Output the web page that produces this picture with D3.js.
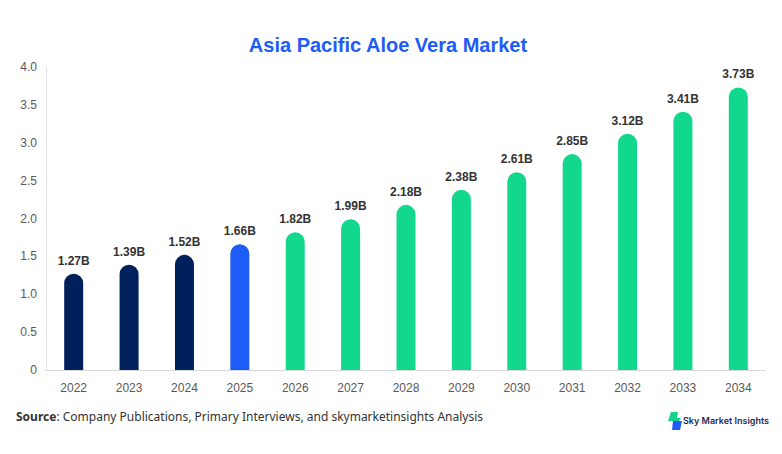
<!DOCTYPE html>
<html>
<head>
<meta charset="utf-8">
<script src="https://cdn.jsdelivr.net/npm/d3@7"></script>
<style>
  body { margin: 0; background: #fff; }
  svg { display: block; }
</style>
</head>
<body>
<svg id="chart" width="782" height="454"></svg>
<script>
// chart data
var years = ["2022","2023","2024","2025","2026","2027","2028","2029","2030","2031","2032","2033","2034"];
var values = [1.27, 1.39, 1.52, 1.66, 1.82, 1.99, 2.18, 2.38, 2.61, 2.85, 3.12, 3.41, 3.73];
var yTicks = [0, 0.5, 1.0, 1.5, 2.0, 2.5, 3.0, 3.5, 4.0];
var yTickLabels = ["0", "0.5", "1.0", "1.5", "2.0", "2.5", "3.0", "3.5", "4.0"];

var svg = d3.select("#chart");
// plot area (note: "top" is taken by window.top)
var plotLeft = 46, plotRight = 766, plotTop = 67, plotBottom = 370;
var barWidth = 19;
var sans = "'Liberation Sans', Arial, sans-serif";

function barColor(i) {
  if (i < 3) return "#00205b";
  if (i == 3) return "#1e5cf8";
  return "#12d88e";
}

var x = d3.scaleBand().domain(years).range([plotLeft, plotRight]);
var y = d3.scaleLinear().domain([0, 4]).range([plotBottom, plotTop]);

// title
svg.append("text")
   .attr("x", 388).attr("y", 52)
   .attr("text-anchor", "middle")
   .style("font-family", sans)
   .style("font-weight", "bold")
   .style("font-size", "20px")
   .style("fill", "#1e5cf8")
   .text("Asia Pacific Aloe Vera Market");

// axis lines
svg.append("line")
   .attr("x1", plotLeft + 0.5).attr("x2", plotLeft + 0.5).attr("y1", plotTop).attr("y2", plotBottom)
   .attr("stroke", "#e3e3e3");
svg.append("line")
   .attr("x1", plotLeft).attr("x2", plotRight).attr("y1", plotBottom + 0.5).attr("y2", plotBottom + 0.5)
   .attr("stroke", "#d9d9d9");

// y tick labels
svg.selectAll(".ytick")
   .data(yTicks)
   .enter()
   .append("text")
   .attr("class", "ytick")
   .attr("x", 37)
   .attr("y", function(d){ return y(d) + 4; })
   .attr("text-anchor", "end")
   .style("font-family", sans)
   .style("font-size", "12px")
   .style("fill", "#595959")
   .text(function(d, i){ return yTickLabels[i]; });

// x tick labels
svg.selectAll(".xtick")
   .data(years)
   .enter()
   .append("text")
   .attr("class", "xtick")
   .attr("x", function(d){ return x(d) + x.bandwidth() / 2; })
   .attr("y", 392)
   .attr("text-anchor", "middle")
   .style("font-family", sans)
   .style("font-size", "12px")
   .style("fill", "#595959")
   .text(function(d){ return d; });

// bars with rounded tops
var r = barWidth / 2;
svg.selectAll(".bar")
   .data(values)
   .enter()
   .append("path")
   .attr("class", "bar")
   .attr("fill", function(d, i){ return barColor(i); })
   .attr("d", function(d, i){
     var cx = x(years[i]) + x.bandwidth() / 2;
     var x0 = cx - r, x1 = cx + r;
     var yt = y(d);
     return "M" + x0 + "," + plotBottom +
            "V" + (yt + r) +
            "A" + r + "," + r + " 0 0 1 " + x1 + "," + (yt + r) +
            "V" + plotBottom + "Z";
   });

// value labels
svg.selectAll(".val")
   .data(values)
   .enter()
   .append("text")
   .attr("class", "val")
   .attr("x", function(d, i){ return x(years[i]) + x.bandwidth() / 2; })
   .attr("y", function(d){ return y(d) - 9; })
   .attr("text-anchor", "middle")
   .style("font-family", sans)
   .style("font-weight", "bold")
   .style("font-size", "12px")
   .style("fill", "#333333")
   .text(function(d){ return d.toFixed(2) + "B"; });

// source note
var src = svg.append("text")
   .attr("x", 16).attr("y", 421)
   .style("font-family", "'Noto Sans', 'Open Sans', sans-serif")
   .style("font-size", "12px")
   .style("fill", "#333");
src.append("tspan").style("font-weight", "bold").text("Source");
src.append("tspan").text(": Company Publications, Primary Interviews, and skymarketinsights Analysis");

// logo
var logo = svg.append("g").attr("transform", "translate(668,412)");
logo.append("path").attr("d", "M3,0 L10,0 L9,6 L13,6 L11,9 L0,9 Z").attr("fill", "#18d48a");
logo.append("path").attr("d", "M5,9 L14,9 L12,18 L4,18 Z").attr("fill", "#1e5cf8");
logo.append("text")
   .attr("x", 15).attr("y", 12)
   .style("font-family", "Inter, 'Noto Sans', sans-serif")
   .style("font-weight", "600")
   .style("font-size", "9px")
   .style("fill", "#1b2a55")
   .text("Sky Market Insights");
</script>
</body>
</html>
